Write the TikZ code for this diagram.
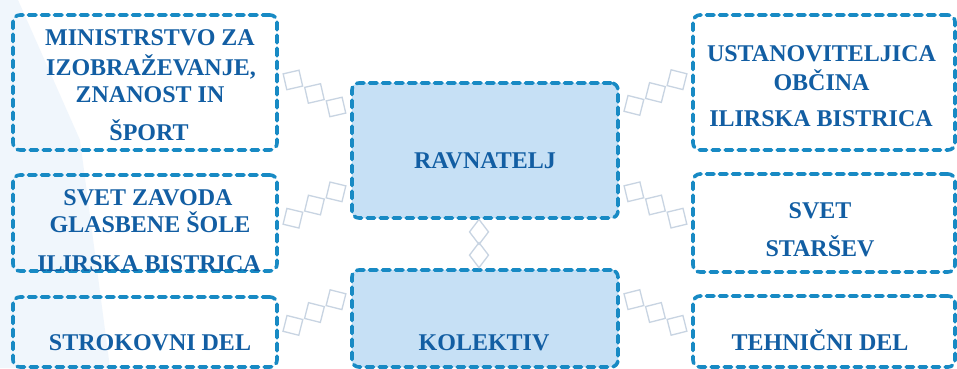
\documentclass[tikz,border=0pt]{standalone}
\usepackage{fontspec}
\setmainfont{Liberation Serif}
\usetikzlibrary{decorations.markings,calc}
\definecolor{dashb}{RGB}{24,138,196}
\definecolor{txtb}{RGB}{18,94,163}
\definecolor{fillb}{RGB}{198,224,245}
\definecolor{linkc}{RGB}{200,212,226}
\definecolor{bgl}{RGB}{240,246,252}
\tikzset{
 dbox/.style={draw=dashb, line width=3.6pt, dash pattern=on 7.5pt off 5.5pt, line cap=round, rounded corners=7pt, inner sep=0pt},
 cbox/.style={dbox, fill=fillb},
 lbl/.style={text=txtb, font=\fontsize{24}{28}\selectfont\bfseries, anchor=base, inner sep=0pt},
 linksq/.style={draw=linkc, line width=1.3pt, solid, line join=miter},
 link/.style={postaction={decorate}, decoration={markings,
   mark=at position 0.17 with {\draw[linksq] (-11.5,0)--(0,11.5)--(11.5,0)--(0,-11.5)--cycle;},
   mark=at position 0.5 with {\draw[linksq] (-11.5,0)--(0,11.5)--(11.5,0)--(0,-11.5)--cycle;},
   mark=at position 0.83 with {\draw[linksq] (-11.5,0)--(0,11.5)--(11.5,0)--(0,-11.5)--cycle;}}},
 vlink/.style={postaction={decorate}, decoration={markings,
   mark=at position 0.25 with {\draw[linksq] (-12.5,0)--(0,9.5)--(12.5,0)--(0,-9.5)--cycle;},
   mark=at position 0.73 with {\draw[linksq] (-12.5,0)--(0,9.5)--(12.5,0)--(0,-9.5)--cycle;}}},
}
\begin{document}
\begin{tikzpicture}[x=1pt,y=-1pt]
\useasboundingbox (0,0) rectangle (957,368);
\clip (0,0) rectangle (957,368);
\fill[white] (0,0) rectangle (957,368);
\fill[bgl] (0,0) -- (18,0) -- (80,140) -- (110,368) -- (0,368) -- cycle;

% boxes
\node[dbox, minimum width=264pt, minimum height=135pt] (l1) at (145,82.5) {};
\node[dbox, minimum width=264pt, minimum height=96pt] (l2) at (145,223) {};
\node[dbox, minimum width=264pt, minimum height=70pt] (l3) at (145,332) {};
\node[dbox, minimum width=262pt, minimum height=135pt] (r1) at (824,82.5) {};
\node[dbox, minimum width=262pt, minimum height=98pt] (r2) at (824,223) {};
\node[dbox, minimum width=262pt, minimum height=71pt] (r3) at (824,331.5) {};
\node[cbox, minimum width=266pt, minimum height=135pt] (rav) at (485,150.5) {};
\node[cbox, minimum width=266pt, minimum height=97pt] (kol) at (485,318.5) {};

% connectors
\path[link] ($(l1.east)+(3,-9.5)$) -- ($(rav.west)+(-3,-36.5)$);
\path[link] ($(l2.east)+(3,2)$) -- ($(rav.west)+(-3,34.5)$);
\path[link] ($(l3.east)+(3,0)$) -- ($(kol.west)+(-3,-25.5)$);
\path[link] ($(rav.east)+(3,-38.5)$) -- ($(r1.west)+(-3,-9.5)$);
\path[link] ($(rav.east)+(3,34.5)$) -- ($(r2.west)+(-3,2)$);
\path[link] ($(kol.east)+(3,-25.5)$) -- ($(r3.west)+(-3,0.5)$);
\path[vlink] ($(rav.south)+(-6,0)$) -- ($(kol.north)+(-6,0)$);

% texts
\node[lbl] (t1a) at (150,45) {MINISTRSTVO ZA};
\node[lbl] (t1b) at (151,75) {IZOBRAŽEVANJE,};
\node[lbl] (t1c) at (150,102) {ZNANOST IN};
\node[lbl] (t1d) at (149,140) {ŠPORT};
\node[lbl] (t2a) at (148,205) {SVET ZAVODA};
\node[lbl] (t2b) at (150,232.7) {GLASBENE ŠOLE};
\node[lbl] (t2c) at (149,271.7) {ILIRSKA BISTRICA};
\node[lbl] (t3a) at (150,350) {STROKOVNI DEL};
\node[lbl] (r1a) at (821.5,61.7) {USTANOVITELJICA};
\node[lbl] (r1b) at (821.5,90) {OBČINA};
\node[lbl] (r1c) at (821,126.7) {ILIRSKA BISTRICA};
\node[lbl] (r2a) at (820,218) {SVET};
\node[lbl] (r2b) at (820,256.7) {STARŠEV};
\node[lbl] (r3a) at (820,350) {TEHNIČNI DEL};
\node[lbl] (ravt) at (485,168.3) {RAVNATELJ};
\node[lbl] (kolt) at (484,350.7) {KOLEKTIV};
\end{tikzpicture}
\end{document}
